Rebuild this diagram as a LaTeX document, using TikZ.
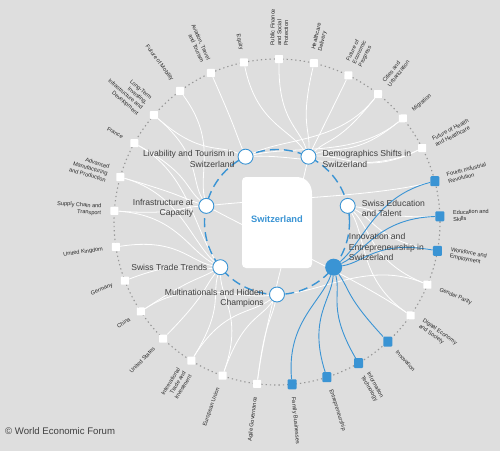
\documentclass[tikz,border=0pt]{standalone}
\usepackage{fontspec}
\setmainfont{Liberation Sans}
\usetikzlibrary{calc}
\definecolor{bgc}{RGB}{222,222,222}
\definecolor{wefblue}{RGB}{58,148,212}
\definecolor{txt}{RGB}{64,64,64}
\definecolor{dotc}{RGB}{150,150,150}
\pgfdeclarelayer{back}
\pgfdeclarelayer{links}
\pgfsetlayers{back,links,main}
\newcommand\outR[4]{%
 \node[#3] (#1) at ($(C)+(#2:163)$) {};
 \node[olabR, rotate=#2] at ($(C)+(#2:176)$) {#4};}
\newcommand\outL[4]{%
 \node[#3] (#1) at ($(C)+(#2:163)$) {};
 \node[olabL, rotate=#2+180] at ($(C)+(#2:176)$) {#4};}
\newcommand\lk[3][wlink]{\draw[#1] (#2) .. controls ($(#2)!0.38!(C)$) and ($(#3)!0.3!(#2)$) .. (#3);}
\begin{document}
\begin{tikzpicture}[x=1pt,y=1pt,
 wlink/.style={white, line width=0.8pt},
 blink/.style={wefblue, line width=0.9pt},
 sqw/.style={fill=white, minimum size=8pt, inner sep=0pt, rounded corners=0.6pt},
 sqb/.style={fill=wefblue, minimum width=9pt, minimum height=10pt, inner sep=0pt, rounded corners=1pt},
 key/.style={circle, fill=white, draw=wefblue, line width=0.9pt, minimum size=15pt, inner sep=0pt},
 keyhi/.style={circle, fill=wefblue, minimum size=17pt, inner sep=0pt},
 klab/.style={font=\fontsize{8.6}{10.5}\selectfont, text=txt, inner sep=0pt},
 olabR/.style={font=\fontsize{5.6}{6.8}\selectfont, text=black!85, inner sep=0pt, align=left, anchor=west},
 olabL/.style={font=\fontsize{5.6}{6.8}\selectfont, text=black!85, inner sep=0pt, align=right, anchor=east},
]
\begin{pgfonlayer}{back}
\fill[bgc] (0,0) rectangle (500,451);
\end{pgfonlayer}
\useasboundingbox (0,0) rectangle (500,451);
\coordinate (C) at (277,229);

% outer dotted ring
\draw[dotc, line width=1.1pt, dash pattern=on 1.3pt off 3pt] (C) circle (163);

% inner dashed ring
\draw[wefblue, line width=1.4pt, dash pattern=on 9pt off 5pt] (C) circle (72.5);

% centre card
\fill[white] (242,187) -- (242,270) arc (180:90:4) -- (296,274)
  .. controls (306,274) and (312,267) .. (312,257) -- (312,187)
  arc (0:-90:4) -- (246,183) arc (270:180:4) -- cycle;
\node[font=\fontsize{9.3}{11}\selectfont\bfseries, text=wefblue] (sw) at (277,232) {Switzerland};

% key issues
\node[key] (M) at ($(C)+(-90:72.5)$) {};
\node[keyhi] (N) at ($(C)+(-38.57:72.5)$) {};
\node[key] (E) at ($(C)+(12.86:72.5)$) {};
\node[key] (D) at ($(C)+(64.29:72.5)$) {};
\node[key] (L) at ($(C)+(115.71:72.5)$) {};
\node[key] (I) at ($(C)+(167.14:72.5)$) {};
\node[key] (T) at ($(C)+(218.57:72.5)$) {};

\node[klab, anchor=east, align=right] (lL) at ($(L)+(-11,-2)$) {Livability and Tourism in\\Switzerland};
\node[klab, anchor=west, align=left] (lD) at ($(D)+(14,-2)$) {Demographics Shifts in\\Switzerland};
\node[klab, anchor=east, align=right] (lI) at ($(I)+(-13,-2.5)$) {Infrastructure at\\Capacity};
\node[klab, anchor=west, align=left] (lE) at ($(E)+(14,-2.5)$) {Swiss Education\\and Talent};
\node[klab, anchor=east, align=right] (lT) at ($(T)+(-13,0)$) {Swiss Trade Trends};
\node[klab, anchor=east, align=right] (lM) at ($(M)+(-13,-4)$) {Multinationals and Hidden\\Champions};
\node[klab, anchor=west, align=left] (lN) at ($(N)+(15,20)$) {Innovation and\\Entrepreneurship in\\Switzerland};

% outer topics
\outR{oPf}{89.3}{sqw}{Public Finance\\and Social\\Protection}
\outR{oHd}{76.9}{sqw}{Healthcare\\Delivery}
\outR{oFe}{64}{sqw}{Future of\\Economic\\Progress}
\outR{oCu}{51.7}{sqw}{Cities and\\Urbanization}
\outR{oMi}{39.5}{sqw}{Migration}
\outR{oFh}{27}{sqw}{Future of Health\\and Healthcare}
\outR{oFi}{14.5}{sqb}{Fourth Industrial\\Revolution}
\outR{oEs}{2}{sqb}{Education and\\Skills}
\outR{oWe}{-10.2}{sqb}{Workforce and\\Employment}
\outR{oGp}{-22.6}{sqw}{Gender Parity}
\outR{oDe}{-35}{sqw}{Digital Economy\\and Society}
\outR{oIn}{-47.2}{sqb}{Innovation}
\outR{oIt}{-60}{sqb}{Information\\Technology}
\outR{oEn}{-72.2}{sqb}{Entrepreneurship}
\outR{oFb}{-84.7}{sqb}{Family Businesses}
\outL{oAg}{-97}{sqw}{Agile Governance}
\outL{oEu}{-109.5}{sqw}{European Union}
\outL{oTr}{-121.7}{sqw}{International\\Trade and\\Investment}
\outL{oUs}{-134.3}{sqw}{United States}
\outL{oCn}{-146.7}{sqw}{China}
\outL{oGe}{-158.9}{sqw}{Germany}
\outL{oUk}{-171.2}{sqw}{United Kingdom}
\outL{oSc}{176.1}{sqw}{Supply Chain and\\Transport}
\outL{oAm}{164}{sqw}{Advanced\\Manufacturing\\and Production}
\outL{oFr}{151.1}{sqw}{France}
\outL{oLt}{139}{sqw}{Long-Term\\Investing,\\Infrastructure and\\Development}
\outL{oMo}{126.5}{sqw}{Future of Mobility}
\outL{oAv}{113.9}{sqw}{Aviation, Travel\\and Tourism}
\outL{oEq}{101.7}{sqw}{Equity}

\node[anchor=west, inner sep=0pt, font=\fontsize{9.6}{11}\selectfont, text=txt] (cr) at (5,20) {© World Economic Forum};

\begin{pgfonlayer}{links}
% top
\lk{oEq}{D}
\lk{oAv}{L}
\lk{oMo}{I}
\lk{oLt}{L}
\lk{oLt}{I}
\lk{oPf}{D}
\lk{oHd}{D}
\lk{oFe}{D}
\lk{oCu}{D}
\lk{oCu}{L}
\lk{oMi}{D}
\lk{oMi}{L}
\lk{oFh}{D}
\lk{oFh}{L}
% right
\lk{oFi}{I}
\lk{oEs}{E}
\lk{oWe}{E}
\lk{oGp}{E}
\lk{oGp}{M}
\lk{oDe}{E}
\lk{oDe}{I}
% left
\lk{oFr}{I}
\lk{oFr}{T}
\lk{oAm}{I}
\lk{oAm}{T}
\lk{oSc}{I}
\lk{oSc}{T}
\lk{oUk}{T}
\lk{oGe}{T}
\lk{oCn}{T}
\lk{oCn}{M}
\lk{oUs}{T}
\lk{oTr}{T}
\lk{oTr}{M}
\lk{oEu}{T}
\lk{oEu}{M}
\lk{oAg}{M}
\lk{oAg}{D}
% highlighted
\lk[blink]{oFi}{N}
\lk[blink]{oEs}{N}
\lk[blink]{oWe}{N}
\lk[blink]{oIn}{N}
\lk[blink]{oIt}{N}
\lk[blink]{oEn}{N}
\lk[blink]{oFb}{N}
\end{pgfonlayer}
\end{tikzpicture}
\end{document}
